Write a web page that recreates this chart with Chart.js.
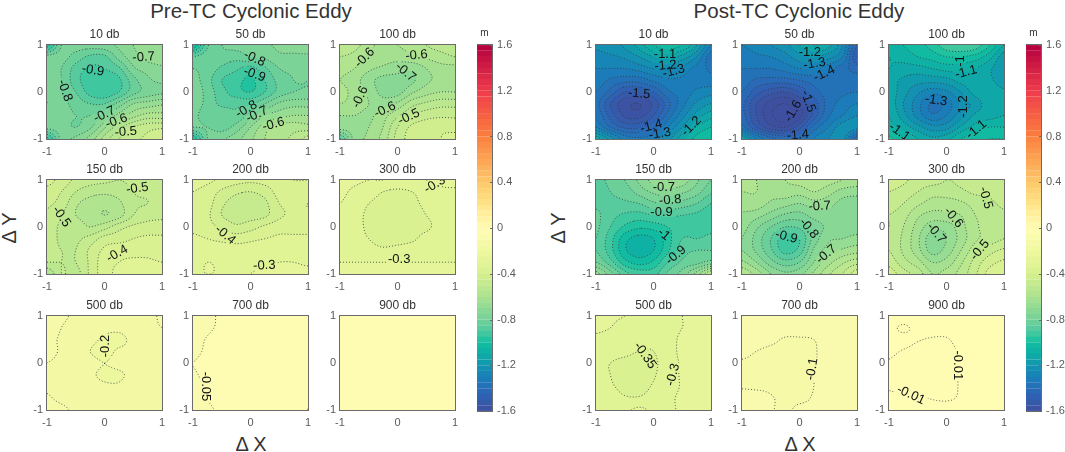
<!DOCTYPE html>
<html lang="en">

<head>
    <meta charset="UTF-8">
    <title>Cyclonic Eddy composites</title>
    <script src="https://cdn.jsdelivr.net/npm/chart.js"></script>
    <style>
        html, body { margin: 0; background: #fff; overflow: hidden; }
        #page { position: relative; width: 1065px; height: 452px; font-family: "Liberation Sans", Arial, sans-serif; color: #333; }
        #page canvas { position: absolute; filter: blur(0.3px); }
        .head, .axisName { position: absolute; white-space: pre; transform: translate(-50%, -50%); }
        .head { font-size: 20.5px; top: 11px; }
        .axisName { font-size: 20px; }
        .vertical { transform: translate(-50%, -50%) rotate(-90deg); }
    </style>
</head>

<body>
    <div id="page">
        <div class="head" style="left:251px">Pre-TC Cyclonic Eddy</div>
        <div class="head" style="left:799px">Post-TC Cyclonic Eddy</div>
        <div class="axisName vertical" style="left:9px;top:228px">&#916; Y</div>
        <div class="axisName vertical" style="left:558px;top:228px">&#916; Y</div>
        <div class="axisName" style="left:251px;top:444px">&#916; X</div>
        <div class="axisName" style="left:800px;top:444px">&#916; X</div>
    </div>
</body>

</html>
<script>
    // grid positions of the values, rows run from y=1 down to y=-1
    const gridX = [-1, -0.75, -0.5, -0.25, 0, 0.25, 0.5, 0.75, 1];
    const gridY = [1, 0.75, 0.5, 0.25, 0, -0.25, -0.5, -0.75, -1];

    const depths = ['10 db', '50 db', '100 db', '150 db', '200 db', '300 db', '500 db', '700 db', '900 db'];
    const axisTicks = [-1, 0, 1];

    // Pre-TC anomalies (m)
    const pre10 = [
        [-.98, -.80, -.78, -.78, -.77, -.74, -.70, -.67, -.66],
        [-.78, -.78, -.82, -.86, -.86, -.78, -.72, -.68, -.67],
        [-.77, -.80, -.87, -.91, -.90, -.86, -.76, -.73, -.71],
        [-.76, -.80, -.88, -.93, -.93, -.91, -.82, -.76, -.74],
        [-.76, -.80, -.85, -.92, -.94, -.90, -.82, -.78, -.76],
        [-.75, -.78, -.82, -.85, -.85, -.78, -.70, -.68, -.66],
        [-.77, -.78, -.80, -.80, -.76, -.68, -.62, -.58, -.58],
        [-.78, -.78, -.80, -.76, -.66, -.57, -.50, -.47, -.46],
        [-.97, -.78, -.74, -.68, -.58, -.50, -.46, -.44, -.40]];
    const pre50 = [
        [-1.05, -.86, -.80, -.78, -.78, -.76, -.74, -.73, -.72],
        [-.85, -.82, -.82, -.83, -.80, -.79, -.76, -.76, -.76],
        [-.80, -.82, -.86, -.89, -.92, -.86, -.80, -.79, -.79],
        [-.78, -.83, -.90, -.93, -.96, -.90, -.83, -.80, -.80],
        [-.76, -.82, -.88, -.93, -.95, -.90, -.83, -.80, -.79],
        [-.76, -.82, -.86, -.86, -.86, -.80, -.74, -.72, -.72],
        [-.78, -.84, -.82, -.84, -.78, -.70, -.67, -.65, -.65],
        [-.80, -.80, -.82, -.78, -.70, -.62, -.58, -.57, -.58],
        [-1.0, -.80, -.76, -.72, -.66, -.60, -.56, -.54, -.48]];
    const pre100 = [
        [-.50, -.53, -.58, -.62, -.60, -.58, -.55, -.53, -.52],
        [-.55, -.57, -.62, -.63, -.63, -.61, -.59, -.57, -.55],
        [-.58, -.60, -.64, -.66, -.68, -.69, -.65, -.62, -.62],
        [-.60, -.63, -.68, -.72, -.72, -.71, -.66, -.64, -.64],
        [-.58, -.62, -.66, -.72, -.72, -.66, -.62, -.60, -.60],
        [-.60, -.62, -.65, -.67, -.64, -.57, -.54, -.52, -.52],
        [-.65, -.65, -.66, -.62, -.56, -.50, -.47, -.46, -.46],
        [-.67, -.67, -.65, -.60, -.50, -.44, -.42, -.41, -.42],
        [-.86, -.68, -.64, -.58, -.48, -.43, -.41, -.40, -.38]];
    const pre150 = [
        [-.38, -.42, -.46, -.48, -.49, -.50, -.49, -.48, -.47],
        [-.42, -.45, -.50, -.53, -.54, -.53, -.50, -.49, -.48],
        [-.44, -.47, -.54, -.57, -.58, -.56, -.51, -.50, -.48],
        [-.46, -.50, -.55, -.57, -.60, -.57, -.50, -.47, -.46],
        [-.47, -.51, -.52, -.55, -.52, -.47, -.44, -.43, -.43],
        [-.47, -.51, -.51, -.48, -.43, -.42, -.40, -.39, -.39],
        [-.48, -.50, -.50, -.44, -.39, -.37, -.37, -.37, -.38],
        [-.50, -.50, -.50, -.44, -.37, -.35, -.34, -.34, -.35],
        [-.60, -.50, -.52, -.44, -.37, -.34, -.33, -.33, -.32]];
    const pre200 = [
        [-.33, -.34, -.36, -.38, -.39, -.38, -.36, -.35, -.35],
        [-.35, -.37, -.41, -.44, -.45, -.43, -.38, -.37, -.37],
        [-.37, -.38, -.44, -.47, -.47, -.46, -.40, -.39, -.40],
        [-.36, -.39, -.45, -.47, -.47, -.46, -.41, -.39, -.39],
        [-.36, -.38, -.41, -.44, -.42, -.39, -.37, -.37, -.37],
        [-.34, -.35, -.36, -.37, -.36, -.35, -.34, -.34, -.34],
        [-.32, -.33, -.33, -.33, -.33, -.32, -.32, -.33, -.33],
        [-.32, -.30, -.31, -.31, -.31, -.31, -.30, -.30, -.31],
        [-.30, -.30, -.30, -.30, -.30, -.29, -.28, -.28, -.28]];
    const pre300 = [
        [-.28, -.29, -.30, -.30, -.31, -.31, -.30, -.29, -.28],
        [-.29, -.31, -.33, -.35, -.36, -.35, -.33, -.31, -.31],
        [-.30, -.32, -.35, -.36, -.37, -.36, -.34, -.32, -.32],
        [-.31, -.33, -.36, -.37, -.38, -.37, -.35, -.33, -.32],
        [-.32, -.33, -.36, -.37, -.37, -.37, -.36, -.33, -.32],
        [-.32, -.33, -.35, -.37, -.37, -.36, -.33, -.32, -.32],
        [-.31, -.32, -.33, -.34, -.33, -.32, -.32, -.31, -.31],
        [-.30, -.30, -.30, -.30, -.30, -.30, -.30, -.30, -.30],
        [-.28, -.28, -.28, -.28, -.28, -.28, -.28, -.28, -.28]];
    const pre500 = [
        [-.13, -.14, -.16, -.17, -.17, -.17, -.17, -.17, -.14],
        [-.13, -.15, -.17, -.18, -.19, -.19, -.18, -.17, -.15],
        [-.14, -.155, -.17, -.19, -.205, -.21, -.19, -.18, -.17],
        [-.14, -.155, -.18, -.20, -.21, -.195, -.19, -.18, -.17],
        [-.15, -.16, -.18, -.19, -.20, -.19, -.18, -.17, -.17],
        [-.155, -.165, -.18, -.195, -.205, -.205, -.19, -.18, -.17],
        [-.155, -.165, -.18, -.19, -.195, -.195, -.18, -.18, -.17],
        [-.145, -.16, -.17, -.18, -.18, -.18, -.18, -.17, -.17],
        [-.13, -.14, -.16, -.17, -.17, -.17, -.17, -.17, -.17]];
    const pre700 = [
        [-.07, -.058, -.045, -.04, -.035, -.03, -.03, -.035, -.045],
        [-.065, -.055, -.045, -.04, -.035, -.03, -.03, -.035, -.04],
        [-.06, -.048, -.04, -.04, -.035, -.03, -.03, -.03, -.035],
        [-.058, -.045, -.04, -.035, -.03, -.03, -.03, -.03, -.03],
        [-.05, -.04, -.035, -.035, -.03, -.03, -.03, -.03, -.03],
        [-.053, -.043, -.035, -.035, -.03, -.03, -.03, -.03, -.03],
        [-.058, -.047, -.04, -.035, -.03, -.03, -.03, -.03, -.03],
        [-.06, -.049, -.04, -.035, -.03, -.03, -.03, -.03, -.035],
        [-.065, -.055, -.045, -.04, -.035, -.03, -.03, -.035, -.051]];
    const pre900 = [
        [-.02, -.02, -.02, -.02, -.02, -.02, -.02, -.02, -.02],
        [-.02, -.02, -.02, -.02, -.02, -.02, -.02, -.02, -.02],
        [-.02, -.02, -.02, -.02, -.02, -.02, -.02, -.02, -.02],
        [-.02, -.02, -.02, -.02, -.02, -.02, -.02, -.02, -.02],
        [-.02, -.02, -.02, -.02, -.02, -.02, -.02, -.02, -.02],
        [-.02, -.02, -.02, -.02, -.02, -.02, -.02, -.02, -.02],
        [-.02, -.02, -.02, -.02, -.02, -.02, -.02, -.02, -.02],
        [-.02, -.02, -.02, -.02, -.02, -.02, -.02, -.02, -.02],
        [-.02, -.02, -.02, -.02, -.02, -.02, -.02, -.02, -.02]];

    // Post-TC anomalies (m)
    const post10 = [
        [-1.24, -1.22, -1.19, -1.13, -1.05, -1.02, -1.05, -1.15, -1.30],
        [-1.27, -1.26, -1.24, -1.20, -1.15, -1.13, -1.17, -1.25, -1.38],
        [-1.30, -1.30, -1.30, -1.28, -1.25, -1.24, -1.27, -1.32, -1.36],
        [-1.32, -1.36, -1.38, -1.38, -1.34, -1.31, -1.31, -1.32, -1.33],
        [-1.35, -1.42, -1.50, -1.50, -1.45, -1.36, -1.33, -1.29, -1.27],
        [-1.38, -1.50, -1.58, -1.60, -1.54, -1.42, -1.32, -1.24, -1.20],
        [-1.36, -1.47, -1.56, -1.57, -1.50, -1.38, -1.27, -1.18, -1.12],
        [-1.30, -1.40, -1.46, -1.46, -1.42, -1.30, -1.20, -1.10, -1.05],
        [-1.12, -1.22, -1.32, -1.34, -1.32, -1.22, -1.12, -1.03, -1.00]];
    const post50 = [
        [-1.30, -1.28, -1.25, -1.22, -1.15, -1.10, -1.13, -1.25, -1.45],
        [-1.33, -1.31, -1.30, -1.27, -1.22, -1.20, -1.23, -1.30, -1.50],
        [-1.35, -1.35, -1.35, -1.33, -1.30, -1.30, -1.33, -1.38, -1.42],
        [-1.37, -1.41, -1.42, -1.42, -1.40, -1.38, -1.38, -1.38, -1.38],
        [-1.40, -1.48, -1.53, -1.55, -1.50, -1.42, -1.38, -1.36, -1.35],
        [-1.44, -1.55, -1.62, -1.65, -1.60, -1.48, -1.38, -1.33, -1.30],
        [-1.43, -1.55, -1.64, -1.68, -1.62, -1.48, -1.36, -1.30, -1.25],
        [-1.38, -1.50, -1.58, -1.60, -1.52, -1.38, -1.30, -1.22, -1.22],
        [-1.15, -1.30, -1.38, -1.42, -1.40, -1.30, -1.25, -1.22, -1.45]];
    const post100 = [
        [-1.08, -1.05, -1.02, -.98, -.92, -.90, -.92, -1.00, -1.10],
        [-1.10, -1.08, -1.05, -1.03, -1.00, -1.00, -1.02, -1.08, -1.18],
        [-1.10, -1.12, -1.12, -1.10, -1.08, -1.08, -1.10, -1.14, -1.20],
        [-1.13, -1.16, -1.18, -1.18, -1.17, -1.13, -1.12, -1.14, -1.18],
        [-1.12, -1.18, -1.24, -1.28, -1.26, -1.20, -1.13, -1.12, -1.14],
        [-1.12, -1.20, -1.28, -1.36, -1.33, -1.24, -1.18, -1.12, -1.12],
        [-1.10, -1.18, -1.27, -1.34, -1.30, -1.22, -1.14, -1.12, -1.10],
        [-1.08, -1.12, -1.18, -1.23, -1.22, -1.14, -1.08, -1.05, -1.05],
        [-.98, -1.05, -1.10, -1.14, -1.12, -1.05, -1.02, -1.00, -1.00]];
    const post150 = [
        [-.86, -.84, -.80, -.74, -.68, -.65, -.67, -.74, -.80],
        [-.87, -.85, -.83, -.78, -.74, -.72, -.74, -.78, -.84],
        [-.86, -.86, -.86, -.85, -.81, -.80, -.82, -.85, -.90],
        [-.84, -.88, -.91, -.92, -.90, -.89, -.90, -.91, -.93],
        [-.84, -.90, -.96, -.99, -.98, -.95, -.92, -.91, -.91],
        [-.85, -.93, -1.03, -1.07, -1.05, -.97, -.90, -.90, -.89],
        [-.85, -.93, -1.04, -1.08, -1.05, -.96, -.87, -.85, -.85],
        [-.80, -.88, -.98, -1.02, -.99, -.90, -.84, -.82, -.78],
        [-.68, -.78, -.88, -.92, -.92, -.84, -.78, -.68, -.55]];
    const post200 = [
        [-.58, -.60, -.62, -.60, -.58, -.56, -.58, -.60, -.62],
        [-.60, -.60, -.63, -.62, -.63, -.60, -.63, -.67, -.68],
        [-.62, -.62, -.66, -.68, -.70, -.67, -.68, -.72, -.73],
        [-.66, -.68, -.72, -.76, -.77, -.73, -.72, -.74, -.74],
        [-.68, -.74, -.80, -.85, -.84, -.78, -.74, -.73, -.73],
        [-.70, -.77, -.85, -.93, -.90, -.78, -.71, -.70, -.68],
        [-.70, -.76, -.84, -.92, -.88, -.74, -.68, -.64, -.62],
        [-.64, -.70, -.78, -.83, -.80, -.70, -.62, -.56, -.52],
        [-.56, -.62, -.70, -.74, -.72, -.64, -.56, -.50, -.42]];
    const post300 = [
        [-.42, -.44, -.47, -.48, -.50, -.49, -.46, -.47, -.47],
        [-.45, -.47, -.50, -.53, -.52, -.51, -.49, -.49, -.48],
        [-.47, -.50, -.54, -.57, -.58, -.56, -.53, -.51, -.49],
        [-.50, -.53, -.59, -.62, -.61, -.60, -.55, -.53, -.51],
        [-.50, -.55, -.62, -.68, -.68, -.62, -.56, -.53, -.52],
        [-.52, -.56, -.64, -.73, -.70, -.63, -.56, -.53, -.50],
        [-.50, -.56, -.63, -.72, -.68, -.60, -.52, -.47, -.44],
        [-.47, -.53, -.58, -.65, -.63, -.56, -.48, -.42, -.39],
        [-.42, -.48, -.52, -.60, -.58, -.53, -.46, -.38, -.36]];
    const post500 = [
        [-.27, -.29, -.30, -.31, -.32, -.32, -.30, -.29, -.27],
        [-.29, -.30, -.32, -.32, -.33, -.32, -.30, -.29, -.27],
        [-.31, -.32, -.33, -.33, -.34, -.32, -.29, -.28, -.27],
        [-.33, -.335, -.34, -.35, -.35, -.32, -.29, -.28, -.27],
        [-.34, -.35, -.36, -.365, -.36, -.32, -.295, -.28, -.27],
        [-.34, -.35, -.365, -.37, -.355, -.32, -.295, -.28, -.26],
        [-.33, -.345, -.36, -.365, -.345, -.32, -.295, -.27, -.26],
        [-.31, -.33, -.345, -.345, -.33, -.31, -.29, -.27, -.26],
        [-.30, -.31, -.31, -.29, -.31, -.31, -.29, -.27, -.26]];
    const post700 = [
        [-.085, -.085, -.085, -.085, -.085, -.085, -.085, -.08, -.08],
        [-.09, -.09, -.09, -.09, -.09, -.09, -.085, -.08, -.08],
        [-.09, -.09, -.095, -.102, -.102, -.10, -.09, -.08, -.08],
        [-.095, -.10, -.105, -.105, -.105, -.102, -.09, -.08, -.08],
        [-.102, -.105, -.11, -.11, -.11, -.102, -.09, -.08, -.08],
        [-.105, -.11, -.11, -.11, -.11, -.10, -.09, -.08, -.08],
        [-.102, -.104, -.105, -.11, -.11, -.10, -.09, -.08, -.08],
        [-.09, -.09, -.098, -.105, -.105, -.098, -.09, -.08, -.08],
        [-.09, -.09, -.098, -.104, -.095, -.095, -.09, -.08, -.08]];
    const post900 = [
        [-.008, -.008, -.008, -.008, -.008, -.008, -.008, -.008, -.008],
        [-.009, -.0105, -.009, -.009, -.009, -.009, -.008, -.008, -.008],
        [-.009, -.009, -.0098, -.0102, -.0102, -.009, -.008, -.008, -.008],
        [-.0095, -.0102, -.011, -.011, -.011, -.0095, -.008, -.008, -.008],
        [-.0102, -.011, -.012, -.012, -.012, -.0095, -.008, -.008, -.008],
        [-.0105, -.011, -.012, -.012, -.012, -.0095, -.008, -.008, -.008],
        [-.0102, -.0108, -.012, -.012, -.012, -.0095, -.008, -.008, -.008],
        [-.0095, -.0095, -.0095, -.0102, -.0105, -.0095, -.008, -.008, -.008],
        [-.0085, -.0085, -.0085, -.0085, -.0085, -.0085, -.008, -.008, -.008]];

    // contour labels: x, y, text, rotation
    const preLabels = [
        [[-.2, .46, '-0.9', 10], [.68, .74, '-0.7', -3], [-.69, .03, '-0.8', 70], [0, -.48, '-0.7', -25], [.21, -.62, '-0.6', -20], [.37, -.85, '-0.5', -5]],
        [[.07, .71, '-0.8', 25], [.07, .37, '-0.9', 20], [-.07, -.37, '-0.8', -30], [.11, -.48, '-0.7', -25], [.4, -.69, '-0.6', -15]],
        [[-.57, .73, '-0.6', -45], [.33, .78, '-0.6', -5], [.14, .42, '-0.7', 40], [-.65, -.11, '-0.6', -65], [-.22, -.38, '-0.6', -25], [.2, -.53, '-0.5', -25]],
        [[.57, .82, '-0.5', -8], [-.75, .22, '-0.5', 55], [.22, -.57, '-0.4', -30]],
        [[-.44, -.17, '-0.4', 40], [.24, -.82, '-0.3', -3]],
        [[.65, .9, '-0.3', -30], [.03, -.69, '-0.3', 0]],
        [[.02, .36, '-0.2', -90]],
        [[-.78, -.5, '-0.05', 90]],
        []];
    const postLabels = [
        [[.2, .81, '-1.1', 0], [.21, .56, '-1.2', -5], [.35, .44, '-1.3', -15], [-.25, -.04, '-1.5', 5], [-.04, -.73, '-1.4', -15], [.11, -.89, '-1.3', -10], [.66, -.73, '-1.2', -45]],
        [[.18, .85, '-1.2', 0], [.26, .6, '-1.3', -10], [.43, .39, '-1.4', -25], [.15, -.2, '-1.5', 70], [-.11, -.41, '-1.6', -60], [-.03, -.92, '-1.4', -5]],
        [[.25, .66, '-1', -90], [.34, .42, '-1.1', -15], [-.18, -.18, '-1.3', 8], [.3, -.31, '-1.2', -90], [.52, -.8, '-1.1', -40], [-.82, -.85, '-1.1', 35]],
        [[.18, .84, '-0.7', 0], [.29, .57, '-0.8', -5], [.14, .32, '-0.9', 0], [.18, -.16, '-1', 40], [.39, -.6, '-0.9', -40]],
        [[.35, .44, '-0.7', -3], [.16, -.03, '-0.8', 50], [-.23, -.21, '-0.9', 15], [.47, -.58, '-0.7', -40]],
        [[.68, .62, '-0.5', 75], [.12, .2, '-0.6', 50], [-.18, -.13, '-0.7', 50], [.58, -.49, '-0.5', -50]],
        [[-.15, .16, '-0.35', 55], [.34, -.25, '-0.3', -75]],
        [[.22, -.13, '-0.1', -80]],
        [[.2, -.05, '-0.01', 90], [-.62, -.68, '-0.01', 25]]];

    const preFields = [pre10, pre50, pre100, pre150, pre200, pre300, pre500, pre700, pre900];
    const postFields = [post10, post50, post100, post150, post200, post300, post500, post700, post900];

    // colorbar
    const barEdges = [-1.6, -1.55, -1.5, -1.45, -1.4, -1.35, -1.3, -1.25, -1.2, -1.15, -1.1, -1.05, -1, -.95, -.9, -.85,
        -.8, -.75, -.7, -.65, -.6, -.55, -.5, -.45, -.4, -.35, -.3, -.25, -.2, -.15, -.1, -.05, 0,
        .05, .1, .15, .2, .25, .3, .35, .4, .45, .5, .55, .6, .65, .7, .75, .8, .85, .9, .95, 1,
        1.05, 1.1, 1.15, 1.2, 1.25, 1.3, 1.35, 1.4, 1.45, 1.5, 1.55, 1.6];
    const barTicks = [-1.6, -1.2, -0.8, -0.4, 0, 0.4, 0.8, 1.2, 1.6];

    const colorStops = [
        [-1.6, 63, 79, 160], [-1.45, 45, 100, 180], [-1.3, 25, 128, 186], [-1.15, 15, 162, 170], [-1, 16, 192, 160],
        [-.9, 79, 201, 160], [-.8, 116, 209, 152], [-.6, 171, 226, 142], [-.4, 214, 240, 142], [-.2, 240, 248, 160],
        [0, 255, 252, 181], [.2, 255, 229, 137], [.4, 253, 200, 106], [.8, 251, 127, 62], [1.2, 239, 59, 75], [1.6, 179, 0, 63]];

    const columnsPre = [47, 193, 340];
    const columnsPost = [596, 742, 889];
    const rowTops = [45, 180, 316];
    const panelW = 115;
    const panelH = 94;
    const FONT = '"Liberation Sans", Arial, sans-serif';

    function colorAt(v) {
        if (v <= colorStops[0][0]) return colorStops[0].slice(1);
        for (let i = 1; i < colorStops.length; i++) {
            if (v <= colorStops[i][0]) {
                const a = colorStops[i - 1], b = colorStops[i];
                const t = (v - a[0]) / (b[0] - a[0]);
                return [a[1] + (b[1] - a[1]) * t, a[2] + (b[2] - a[2]) * t, a[3] + (b[3] - a[3]) * t];
            }
        }
        return colorStops[colorStops.length - 1].slice(1);
    }

    function cubic(p0, p1, p2, p3, t) {
        return p1 + 0.5 * t * (p2 - p0 + t * (2 * p0 - 5 * p1 + 4 * p2 - p3 + t * (3 * (p1 - p2) + p3 - p0)));
    }

    // smooth reading of the field between grid values, only for drawing
    function fieldAt(rows, x, y) {
        const gx = Math.min(7.9999, Math.max(0, (x + 1) / 0.25));
        const gy = Math.min(7.9999, Math.max(0, (1 - y) / 0.25));
        const i = Math.floor(gx), j = Math.floor(gy);
        const col = k => Math.min(8, Math.max(0, k));
        const line = r => cubic(rows[r][col(i - 1)], rows[r][i], rows[r][i + 1], rows[r][col(i + 2)], gx - i);
        return cubic(line(col(j - 1)), line(j), line(j + 1), line(col(j + 2)), gy - j);
    }

    // marching squares, returns polylines in data coordinates
    function traceLevel(rows, level) {
        const nx = 80, ny = 66;
        const xAt = i => -1 + 2 * i / nx, yAt = j => 1 - 2 * j / ny;
        const vals = [];
        for (let j = 0; j <= ny; j++) {
            vals.push([]);
            for (let i = 0; i <= nx; i++) vals[j].push(fieldAt(rows, xAt(i), yAt(j)) - level);
        }
        const links = new Map();
        const pts = new Map();
        const link = (a, b) => {
            if (!links.has(a)) links.set(a, []);
            if (!links.has(b)) links.set(b, []);
            links.get(a).push(b);
            links.get(b).push(a);
        };
        const hEdge = (i, j) => {
            const a = vals[j][i], b = vals[j][i + 1];
            if ((a < 0) === (b < 0)) return null;
            const id = 'h' + i + '_' + j;
            pts.set(id, [xAt(i + a / (a - b)), yAt(j)]);
            return id;
        };
        const vEdge = (i, j) => {
            const a = vals[j][i], b = vals[j + 1][i];
            if ((a < 0) === (b < 0)) return null;
            const id = 'v' + i + '_' + j;
            pts.set(id, [xAt(i), yAt(j + a / (a - b))]);
            return id;
        };
        for (let j = 0; j < ny; j++) {
            for (let i = 0; i < nx; i++) {
                const cross = [hEdge(i, j), vEdge(i + 1, j), hEdge(i, j + 1), vEdge(i, j)].filter(e => e);
                if (cross.length >= 2) link(cross[0], cross[1]);
                if (cross.length === 4) link(cross[2], cross[3]);
            }
        }
        const used = new Set();
        const lines = [];
        const walk = start => {
            const out = [];
            let cur = start;
            while (cur && !used.has(cur)) {
                used.add(cur);
                out.push(pts.get(cur));
                cur = links.get(cur).find(n => !used.has(n));
            }
            return out;
        };
        // open ends first, then closed loops
        for (const [id, n] of links) if (n.length === 1 && !used.has(id)) lines.push(walk(id));
        for (const id of links.keys()) {
            if (!used.has(id)) {
                const loop = walk(id);
                loop.push(loop[0]);
                lines.push(loop);
            }
        }
        return lines;
    }

    const boxPlugin = {
        id: 'box',
        afterDraw(chart) {
            const a = chart.chartArea, ctx = chart.ctx;
            ctx.save();
            ctx.strokeStyle = '#6a6a6a';
            ctx.lineWidth = 1;
            ctx.strokeRect(a.left - 0.5, a.top - 0.5, a.right - a.left + 1, a.bottom - a.top + 1);
            // short inward ticks on the colorbar
            if (chart.config.type === 'bar') {
                ctx.beginPath();
                chart.scales.y.ticks.forEach(t => {
                    const py = Math.round(chart.scales.y.getPixelForValue(t.value)) + 0.5;
                    ctx.moveTo(a.right - 2, py);
                    ctx.lineTo(a.right, py);
                });
                ctx.stroke();
            }
            ctx.restore();
        }
    };

    const contourPlugin = {
        id: 'contour',
        beforeDatasetsDraw(chart, args, opts) {
            const a = chart.chartArea, ctx = chart.ctx;
            const xs = chart.scales.x, ys = chart.scales.y;
            const rows = opts.rows, step = opts.step;

            // filled bands
            const w = Math.round(a.right - a.left), h = Math.round(a.bottom - a.top);
            const img = ctx.createImageData(w, h);
            for (let py = 0; py < h; py++) {
                const y = ys.getValueForPixel(a.top + py + 0.5);
                for (let px = 0; px < w; px++) {
                    const v = fieldAt(rows, xs.getValueForPixel(a.left + px + 0.5), y);
                    const c = colorAt((Math.floor(v / step) + 0.5) * step);
                    const k = (py * w + px) * 4;
                    img.data[k] = c[0]; img.data[k + 1] = c[1]; img.data[k + 2] = c[2]; img.data[k + 3] = 255;
                }
            }
            ctx.putImageData(img, Math.round(a.left), Math.round(a.top));

            // label boxes, the contour line stops inside them
            ctx.save();
            ctx.font = '13px ' + FONT;
            const boxes = opts.labels.map(l => ({
                x: xs.getPixelForValue(l[0]), y: ys.getPixelForValue(l[1]),
                a: l[3] * Math.PI / 180, hw: ctx.measureText(l[2]).width / 2 + 1, text: l[2]
            }));
            const inLabel = (px, py) => boxes.some(b => {
                const dx = px - b.x, dy = py - b.y;
                const u = dx * Math.cos(b.a) + dy * Math.sin(b.a);
                const v = -dx * Math.sin(b.a) + dy * Math.cos(b.a);
                return Math.abs(u) < b.hw && Math.abs(v) < 5;
            });

            // dotted contours
            ctx.beginPath();
            ctx.rect(a.left, a.top, a.right - a.left, a.bottom - a.top);
            ctx.clip();
            ctx.strokeStyle = 'rgba(45,60,60,0.8)';
            ctx.lineWidth = 1;
            ctx.setLineDash([1, 2]);
            let lo = Infinity, hi = -Infinity;
            rows.forEach(r => r.forEach(v => { lo = Math.min(lo, v); hi = Math.max(hi, v); }));
            for (let k = Math.ceil(lo / step - 0.2); k <= Math.floor(hi / step + 0.2); k++) {
                traceLevel(rows, k * step).forEach(line => {
                    ctx.beginPath();
                    let pen = false;
                    line.forEach(p => {
                        const px = xs.getPixelForValue(p[0]), py = ys.getPixelForValue(p[1]);
                        if (inLabel(px, py)) { pen = false; return; }
                        if (pen) ctx.lineTo(px, py); else ctx.moveTo(px, py);
                        pen = true;
                    });
                    ctx.stroke();
                });
            }
            ctx.setLineDash([]);

            // labels
            ctx.fillStyle = '#111';
            ctx.textAlign = 'center';
            ctx.textBaseline = 'middle';
            boxes.forEach(b => {
                ctx.save();
                ctx.translate(b.x, b.y);
                ctx.rotate(b.a);
                ctx.fillText(b.text, 0, 0);
                ctx.restore();
            });
            ctx.restore();
        }
    };

    function fixScale(scale, size) {
        if (scale.isHorizontal()) scale.height = size; else scale.width = size;
        scale.paddingLeft = scale.paddingRight = scale.paddingTop = scale.paddingBottom = 0;
    }

    function addCanvas(left, top, width, height) {
        const canvas = document.createElement('canvas');
        canvas.width = width;
        canvas.height = height;
        canvas.style.left = left + 'px';
        canvas.style.top = top + 'px';
        document.getElementById('page').appendChild(canvas);
        return canvas;
    }

    function drawPanel(left, top, title, rows, labels, step) {
        const points = [];
        gridY.forEach((y, j) => gridX.forEach((x, i) => points.push({ x: x, y: y, v: rows[j][i] })));
        new Chart(addCanvas(left - 30, top - 18, panelW + 40, panelH + 38), {
            type: 'scatter',
            data: { datasets: [{ data: points, pointRadius: 0, pointHoverRadius: 0 }] },
            options: {
                responsive: false,
                animation: false,
                events: [],
                layout: { padding: { right: 10 } },
                scales: {
                    x: {
                        min: -1, max: 1,
                        grid: { display: false, drawTicks: false },
                        border: { display: false },
                        afterBuildTicks: s => { s.ticks = axisTicks.map(v => ({ value: v })); },
                        afterFit: s => fixScale(s, 20),
                        ticks: { color: '#5a5a5a', padding: 6, maxRotation: 0, font: { family: FONT, size: 11 } }
                    },
                    y: {
                        min: -1, max: 1,
                        grid: { display: false, drawTicks: false },
                        border: { display: false },
                        afterBuildTicks: s => { s.ticks = axisTicks.map(v => ({ value: v })); },
                        afterFit: s => fixScale(s, 30),
                        ticks: { color: '#5a5a5a', padding: 4, font: { family: FONT, size: 11 } }
                    }
                },
                plugins: {
                    legend: { display: false },
                    tooltip: { enabled: false },
                    title: {
                        display: true, text: title, color: '#333', fullSize: false,
                        font: { family: FONT, size: 12, weight: 'normal', lineHeight: 1.2 },
                        padding: { top: 0, bottom: 3.6 }
                    },
                    contour: { rows: rows, labels: labels, step: step }
                }
            },
            plugins: [contourPlugin, boxPlugin]
        });
    }

    function drawColorbar(left) {
        const datasets = barEdges.slice(0, -1).map((lo, i) => {
            const c = colorAt((lo + barEdges[i + 1]) / 2).map(Math.round);
            const color = 'rgb(' + c.join(',') + ')';
            return { data: [[lo, barEdges[i + 1]]], backgroundColor: color, borderColor: color, borderWidth: 0.5 };
        });
        new Chart(addCanvas(left, 27, 15 + 35, 18 + 366 + 8), {
            type: 'bar',
            data: { labels: ['m'], datasets: datasets },
            options: {
                responsive: false,
                animation: false,
                events: [],
                grouped: false,
                barPercentage: 1,
                categoryPercentage: 1,
                layout: { padding: { bottom: 8 } },
                scales: {
                    x: { display: false },
                    y: {
                        position: 'right',
                        min: -1.6, max: 1.6,
                        grid: { display: false, drawTicks: false },
                        border: { display: false },
                        afterBuildTicks: s => { s.ticks = barTicks.map(v => ({ value: v })); },
                        afterFit: s => fixScale(s, 35),
                        ticks: { color: '#5a5a5a', padding: 5, font: { family: FONT, size: 11 } }
                    }
                },
                plugins: {
                    legend: { display: false },
                    tooltip: { enabled: false },
                    title: {
                        display: true, text: 'm', color: '#333', fullSize: false,
                        font: { family: FONT, size: 10, weight: 'normal', lineHeight: 1.2 },
                        padding: { top: 0, bottom: 6 }
                    }
                }
            },
            plugins: [boxPlugin]
        });
    }

    depths.forEach((depth, n) => {
        const col = n % 3, row = Math.floor(n / 3);
        drawPanel(columnsPre[col], rowTops[row], depth, preFields[n], preLabels[n], 0.05);
        drawPanel(columnsPost[col], rowTops[row], depth, postFields[n], postLabels[n], depth === '900 db' ? 0.01 : 0.05);
    });
    drawColorbar(477);
    drawColorbar(1026);
</script>
